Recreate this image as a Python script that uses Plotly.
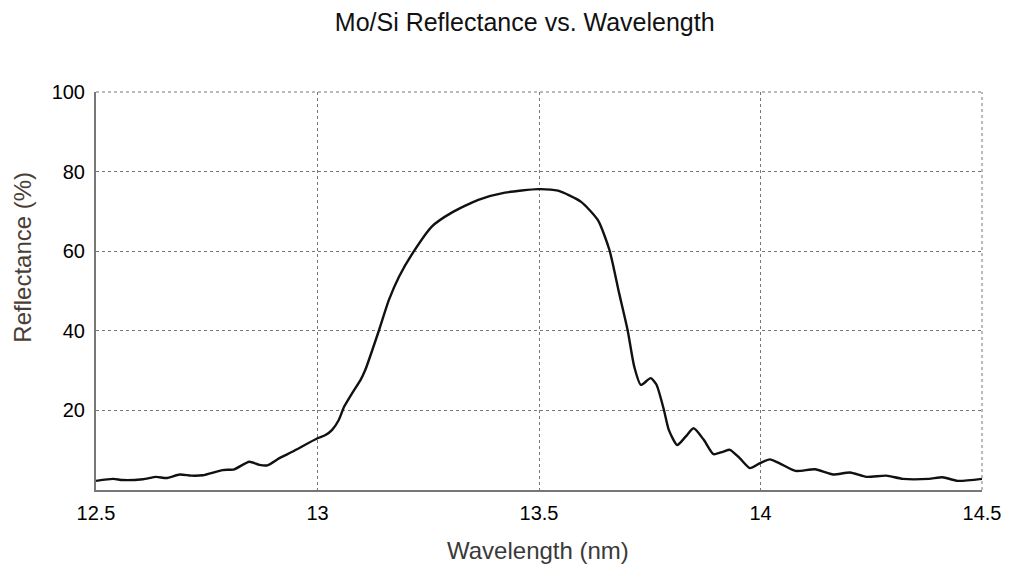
import plotly.graph_objects as go

wavelength_nm = [12.500, 12.539, 12.560, 12.606, 12.636, 12.659, 12.689, 12.715, 12.741, 12.786,
                 12.812, 12.846, 12.869, 12.887, 12.914, 12.943, 13.000, 13.018, 13.033, 13.048,
                 13.060, 13.078, 13.097, 13.108, 13.139, 13.161, 13.184, 13.217, 13.258, 13.303,
                 13.363, 13.423, 13.498, 13.543, 13.595, 13.633, 13.659, 13.681, 13.700, 13.715,
                 13.730, 13.752, 13.765, 13.782, 13.793, 13.812, 13.831, 13.849, 13.872, 13.894,
                 13.915, 13.931, 13.953, 13.976, 13.998, 14.021, 14.043, 14.079, 14.123, 14.164,
                 14.202, 14.239, 14.284, 14.321, 14.380, 14.411, 14.445, 14.500]
reflectance = [2.3, 2.8, 2.5, 2.7, 3.3, 3.0, 3.9, 3.6, 3.7, 5.0,
               5.2, 7.1, 6.3, 6.2, 8.0, 9.6, 13.0, 13.8, 15.1, 17.6,
               20.9, 24.3, 27.6, 30.2, 40.2, 47.7, 53.6, 59.9, 66.2, 69.7,
               72.9, 74.7, 75.6, 75.2, 72.4, 67.8, 60.3, 49.4, 40.2, 31.0,
               26.4, 28.1, 26.5, 20.1, 15.1, 11.3, 13.4, 15.5, 12.6, 9.0,
               9.6, 10.1, 8.0, 5.5, 6.7, 7.7, 6.7, 4.8, 5.2, 3.9,
               4.4, 3.3, 3.6, 2.8, 2.8, 3.2, 2.3, 2.8]

x_ticks = [12.5, 13, 13.5, 14, 14.5]
x_tick_labels = ["12.5", "13", "13.5", "14", "14.5"]
y_ticks = [20, 40, 60, 80, 100]
y_tick_labels = ["20", "40", "60", "80", "100"]

FONT = "Liberation Sans, Arial, sans-serif"

fig = go.Figure()
fig.add_trace(go.Scatter(
    x=wavelength_nm, y=reflectance, mode="lines",
    line=dict(color="#111111", width=2.4, shape="spline", smoothing=0.6),
    showlegend=False, hoverinfo="x+y"))

grid = dict(showgrid=True, gridcolor="#777777", griddash="dot", gridwidth=1)
fig.update_xaxes(range=[12.5, 14.5], tickvals=x_ticks, ticktext=x_tick_labels,
                 ticks="", ticklabelstandoff=4, showline=True, linecolor="#777777", linewidth=2,
                 zeroline=False, tickfont=dict(family=FONT, size=20, color="#000000"), **grid)
fig.update_yaxes(range=[0, 100], tickvals=y_ticks, ticktext=y_tick_labels,
                 ticks="", ticklabelstandoff=5, showline=True, linecolor="#777777", linewidth=2,
                 zeroline=False, tickfont=dict(family=FONT, size=20, color="#000000"), **grid)

# dotted top/right border
fig.add_shape(type="line", xref="paper", yref="paper", x0=0, x1=1, y0=1, y1=1,
              line=dict(color="#777777", width=1, dash="dot"))
fig.add_shape(type="line", xref="paper", yref="paper", x0=1, x1=1, y0=0, y1=1,
              line=dict(color="#777777", width=1, dash="dot"))

fig.add_annotation(text="Wavelength (nm)", xref="paper", yref="paper", x=0.499, y=-0.152,
                   yanchor="middle", showarrow=False,
                   font=dict(family=FONT, size=24, color="#3a3a3a"))
fig.add_annotation(text="Reflectance (%)", xref="paper", yref="paper", x=-0.083, y=0.585,
                   xanchor="center", yanchor="middle", textangle=-90, showarrow=False,
                   font=dict(family=FONT, size=24, color="#4a3e34"))

fig.update_layout(
    width=1013, height=567,
    margin=dict(l=96, r=27, t=92, b=77),
    paper_bgcolor="white", plot_bgcolor="white",
    title=dict(text="Mo/Si Reflectance vs. Wavelength", x=0.518, xanchor="center",
               y=1 - 22 / 567, yanchor="middle", yref="container",
               font=dict(family=FONT, size=25, color="#111111")),
)

fig.write_html("out.html")
